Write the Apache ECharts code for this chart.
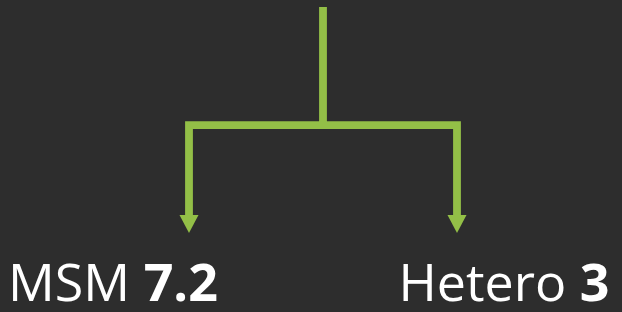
<!DOCTYPE html>
<html>
<head>
<meta charset="utf-8">
<script src="https://cdn.jsdelivr.net/npm/echarts@6/dist/echarts.min.js"></script>
<style>
html,body{margin:0;padding:0;background:#2d2d2d;}
#c{width:622px;height:312px;}
</style>
</head>
<body>
<div id="c"></div>
<script>
const categories = ['MSM', 'Hetero'];
const values = [7.2, 3];

const GREEN = '#93bf47';
const labelOffsets = [[-76, 0], [47, 0]];

const treeData = {
  name: 'root',
  symbol: 'none',
  label: { show: false },
  children: categories.map((c, i) => ({
    name: c,
    value: values[i],
    label: { offset: labelOffsets[i] }
  }))
};

const chart = echarts.init(document.getElementById('c'), null, { renderer: 'canvas' });
chart.setOption({
  backgroundColor: '#2d2d2d',
  animation: false,
  series: [{
    type: 'tree',
    data: [treeData],
    layout: 'orthogonal',
    orient: 'TB',
    left: 55,
    right: 31,
    top: 7,
    bottom: 88,
    roam: false,
    expandAndCollapse: false,
    edgeShape: 'polyline',
    edgeForkPosition: '54.4%',
    symbol: 'path://M0,0 L18,0 L9,18 Z',
    symbolSize: [19, 18],
    itemStyle: { color: GREEN, borderWidth: 0 },
    lineStyle: { color: GREEN, width: 7.8, curveness: 0 },
    emphasis: { disabled: true },
    label: {
      show: true,
      position: 'bottom',
      distance: 27,
      color: '#ffffff',
      fontFamily: 'Open Sans',
      fontSize: 52,
      formatter: p => p.name + ' {b|' + p.value + '}',
      rich: {
        b: { fontFamily: 'Open Sans', fontSize: 52, fontWeight: 'bold', color: '#ffffff' }
      }
    },
    leaves: {
      label: { show: true, position: 'bottom' }
    }
  }]
});
</script>
</body>
</html>
